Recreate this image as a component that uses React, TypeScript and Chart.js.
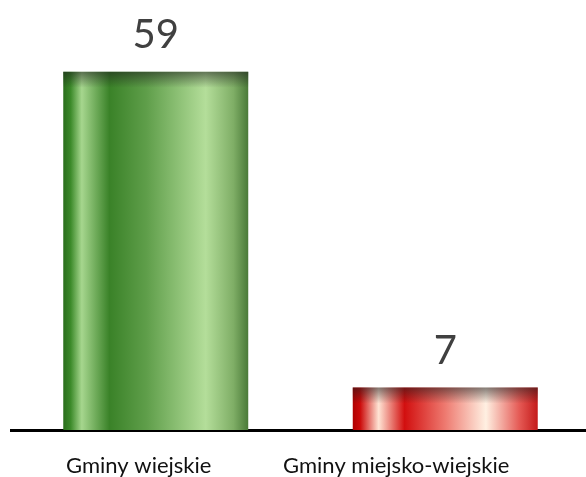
import React, { useEffect, useRef } from "react";
import { Chart, registerables } from "chart.js";

Chart.register(...registerables);

const categories = ["Gminy wiejskie", "Gminy miejsko-wiejskie"];
const values = [59, 7];
const yMax = 70;

const greenStops: [number, string][] = [
  [0, "#2a6e1c"],
  [0.04, "#3c8a2a"],
  [0.1, "#a6d68e"],
  [0.25, "#3a8228"],
  [0.45, "#5f9e4a"],
  [0.77, "#b4de9a"],
  [0.92, "#7fae66"],
  [1, "#4a7a38"],
];
const redStops: [number, string][] = [
  [0, "#b00000"],
  [0.04, "#cc0a0a"],
  [0.14, "#ffe4d4"],
  [0.28, "#d20f0f"],
  [0.5, "#ee7a70"],
  [0.72, "#fff0e2"],
  [0.9, "#e55a55"],
  [1, "#c41a1a"],
];
const barStops = [greenStops, redStops];
const labelShift = [-17, -49];

const BAR_PCT = 0.639;

function barGradient(c: any) {
  const chart = c.chart;
  const xs = chart.scales && chart.scales.x;
  const i = c.dataIndex;
  if (!xs || i === undefined || !chart.chartArea) return "#888";
  const center = xs.getPixelForValue(i);
  const catW = (chart.chartArea.right - chart.chartArea.left) / categories.length;
  const w = catW * BAR_PCT;
  const g = chart.ctx.createLinearGradient(center - w / 2, 0, center + w / 2, 0);
  for (const [o, col] of barStops[i]) g.addColorStop(o, col);
  return g;
}

const decorPlugin = {
  id: "decor",
  afterDatasetsDraw(chart: any) {
    const ctx = chart.ctx;
    const meta = chart.getDatasetMeta(0);
    meta.data.forEach((el: any, i: number) => {
      const { x, y, width } = el.getProps(["x", "y", "width"], true);
      const g = ctx.createLinearGradient(0, y, 0, y + 16);
      g.addColorStop(0, "rgba(30,30,30,0.55)");
      g.addColorStop(1, "rgba(30,30,30,0)");
      ctx.save();
      ctx.fillStyle = g;
      ctx.fillRect(x - width / 2, y, width, 16);
      ctx.fillStyle = "#404040";
      ctx.font = "40px Lato, 'Open Sans', sans-serif";
      ctx.textAlign = "center";
      ctx.textBaseline = "alphabetic";
      ctx.fillText(String(values[i]), x, y - 24);
      ctx.restore();
    });
    const xs = chart.scales.x;
    ctx.save();
    ctx.fillStyle = "#111111";
    ctx.font = "22px Lato, 'Open Sans', sans-serif";
    ctx.textAlign = "center";
    ctx.textBaseline = "alphabetic";
    categories.forEach((lab, i) => {
      ctx.fillText(lab, xs.getPixelForValue(i) + labelShift[i], 473);
    });
    ctx.restore();
  },
};

export default function App() {
  const ref = useRef<HTMLCanvasElement>(null);
  useEffect(() => {
    if (!ref.current) return;
    const chart = new Chart(ref.current, {
      type: "bar",
      data: {
        labels: categories,
        datasets: [
          {
            data: values,
            backgroundColor: barGradient as any,
            borderWidth: 0,
            barPercentage: 1,
            categoryPercentage: BAR_PCT,
          },
        ],
      },
      options: {
        animation: false,
        responsive: false,
        devicePixelRatio: 1,
        layout: { padding: { left: 11, right: 0, top: 5, bottom: 47 } },
        plugins: { legend: { display: false }, tooltip: { enabled: false } },
        scales: {
          x: {
            display: true,
            grid: { display: false, drawTicks: false },
            border: { display: true, color: "#000", width: 3 },
            ticks: { display: false },
          },
          y: { display: false, min: 0, max: yMax },
        },
      },
      plugins: [decorPlugin],
    });
    return () => chart.destroy();
  }, []);
  return (
    <div style={{ position: "absolute", left: 0, top: 0, width: 586, height: 477, overflow: "hidden", background: "#fff" }}>
      <canvas ref={ref} width={590} height={477} />
    </div>
  );
}
